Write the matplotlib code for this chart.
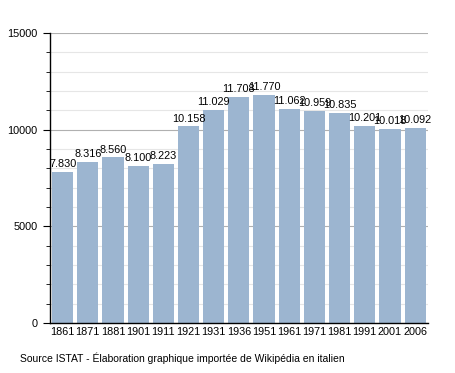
import matplotlib.pyplot as plt
from matplotlib.ticker import MultipleLocator

plt.rcParams['font.family'] = ['Liberation Sans', 'DejaVu Sans']

# Population data
years = ['1861', '1871', '1881', '1901', '1911', '1921', '1931', '1936',
         '1951', '1961', '1971', '1981', '1991', '2001', '2006']
population = [7830, 8316, 8560, 8100, 8223, 10158, 11029, 11708,
              11770, 11062, 10959, 10835, 10201, 10018, 10092]
labels = ['7.830', '8.316', '8.560', '8.100', '8.223', '10.158', '11.029', '11.708',
          '11.770', '11.062', '10.959', '10.835', '10.201', '10.018', '10.092']

fig = plt.figure(figsize=(4.55, 3.73), dpi=100)
ax = fig.add_axes([0.110, 0.134, 0.830, 0.778])

x = range(len(years))
ax.bar(x, population, width=0.84, color='#9cb5d0', zorder=2)

for i, (v, lab) in enumerate(zip(population, labels)):
    ax.text(i, v + 150, lab, ha='center', va='bottom', fontsize=7.8, zorder=3)

ax.set_xlim(-0.5, len(years) - 0.5)
ax.set_ylim(0, 15000)
ax.set_xticks(list(x))
ax.set_xticklabels(years, fontsize=7.8)
ax.tick_params(axis='x', length=0, pad=3)

ax.yaxis.set_major_locator(MultipleLocator(5000))
ax.yaxis.set_minor_locator(MultipleLocator(1000))
ax.tick_params(axis='y', which='major', length=5, labelsize=7.8, pad=4)
ax.tick_params(axis='y', which='minor', length=3)
ax.grid(axis='y', which='major', color='#b0b0b0', linewidth=0.8, zorder=0)
ax.grid(axis='y', which='minor', color='#e6e6e6', linewidth=0.8, zorder=0)

ax.spines['top'].set_visible(False)
ax.spines['right'].set_visible(False)
ax.spines['left'].set_linewidth(1.0)
ax.spines['bottom'].set_linewidth(1.0)

fig.text(0.044, 0.03, 'Source ISTAT - Élaboration graphique importée de Wikipédia en italien',
         fontsize=7.5)

fig.savefig('out.png', dpi=100)
